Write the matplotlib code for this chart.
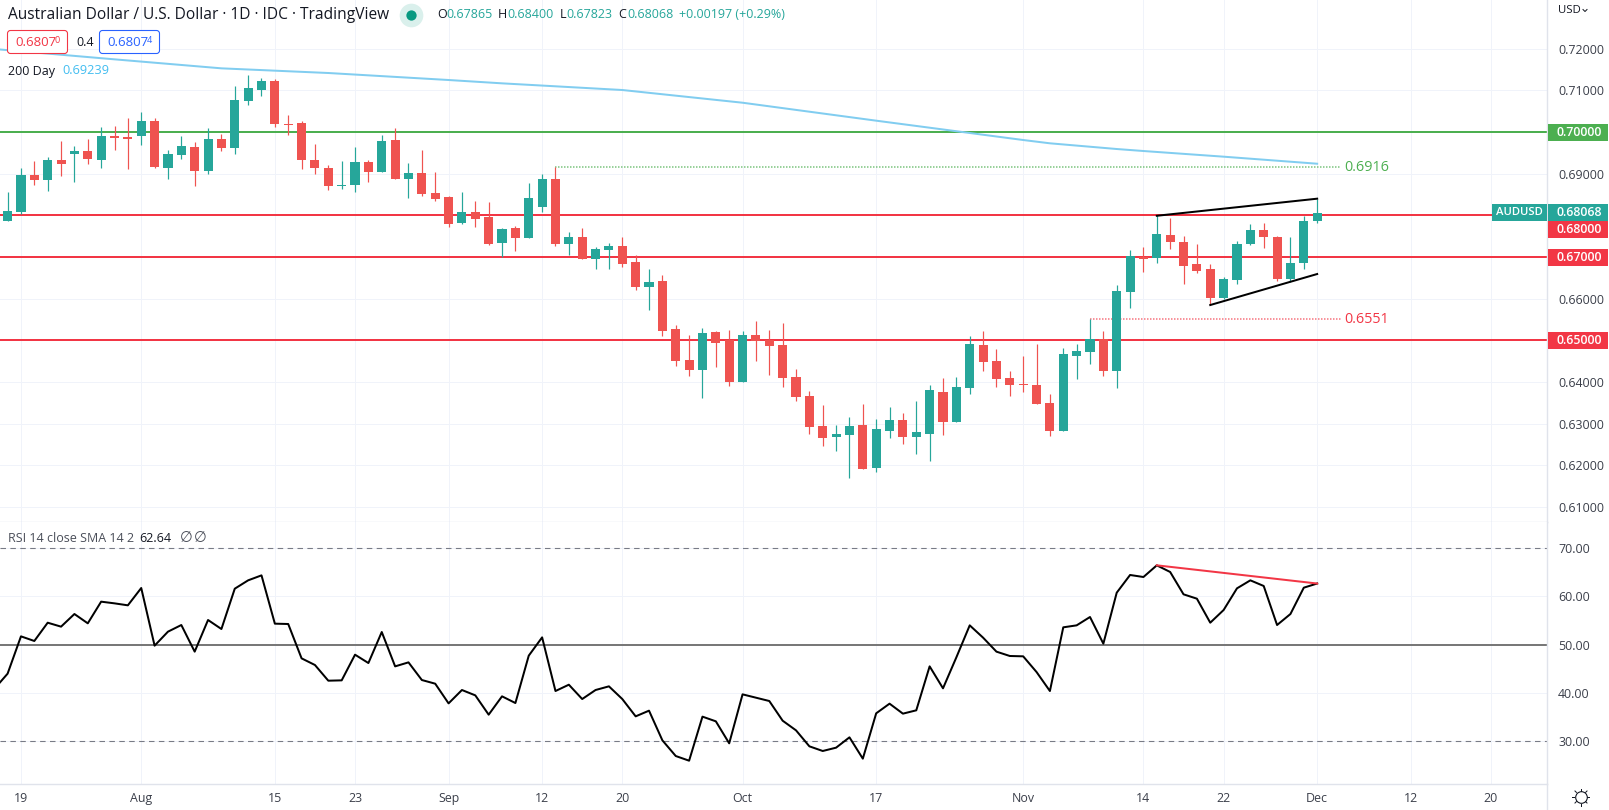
import matplotlib
matplotlib.use('Agg')
import matplotlib.pyplot as plt
import numpy as np
from matplotlib.patches import Rectangle, FancyBboxPatch
from matplotlib.transforms import blended_transform_factory

plt.rcParams['font.family'] = ['Open Sans', 'DejaVu Sans']

opens = [.67864, .68080, .68968, .68848, .69328, .69472, .69544, .69328, .69904, .69880,
         .69904, .70264, .69136, .69448, .69640, .69064, .69832, .69616, .70744, .71008,
         .71224, .70192, .70216, .69328, .69136, .68704, .68728, .69280, .69040, .69808,
         .68872, .69016, .68536, .68440, .67816, .68080, .67960, .67336, .67696, .67456,
         .68200, .68872, .67312, .67480, .66952, .67168, .67264, .66880, .66280, .66424,
         .65272, .64528, .64288, .65200, .65008, .64000, .65128, .65008, .64888, .64120,
         .63664, .62944, .62680, .62728, .62968, .61936, .62824, .63088, .62680, .62752,
         .63760, .63040, .63856, .64888, .64504, .64096, .63952, .63928, .63496, .62824,
         .64624, .64720, .65032, .64264, .66160, .67000, .66976, .67528, .67360, .66832,
         .66712, .66016, .66448, .67312, .67648, .67480, .66472, .66856, .67865]
closes = [.68104, .68968, .68848, .69328, .69232, .69544, .69352, .69904, .69856, .69832,
          .70264, .69160, .69472, .69664, .69064, .69832, .69616, .70768, .71056, .71224,
          .70192, .70168, .69328, .69136, .68704, .68728, .69280, .69040, .69784, .68872,
          .69016, .68512, .68392, .67792, .68080, .67912, .67312, .67672, .67456, .68416,
          .68872, .67312, .67480, .66952, .67192, .67264, .66832, .66280, .66400, .65224,
          .64504, .64288, .65176, .64936, .64000, .65128, .64984, .64864, .64096, .63640,
          .62920, .62656, .62752, .62944, .61912, .62872, .63088, .62680, .62800, .63808,
          .63040, .63880, .64912, .64480, .64072, .63928, .63928, .63472, .62824, .64672,
          .64744, .65032, .64264, .66184, .67024, .66952, .67552, .67360, .66784, .66664,
          .66016, .66472, .67312, .67648, .67480, .66472, .66856, .67864, .68068]
highs = [.68560, .69136, .69304, .69400, .69784, .69664, .69832, .70120, .70144, .70336,
         .70480, .70336, .69568, .69904, .69760, .70096, .69952, .71104, .71368, .71296,
         .71272, .70408, .70264, .69712, .69208, .69304, .69640, .69328, .69928, .70096,
         .69256, .69568, .69040, .68464, .68560, .68344, .68320, .67696, .67744, .68776,
         .68992, .69160, .67600, .67696, .67240, .67336, .67480, .67048, .66712, .66568,
         .65368, .65128, .65296, .65224, .65248, .65224, .65464, .65248, .65416, .64312,
         .63784, .63448, .62968, .63160, .63472, .63112, .63400, .63256, .63544, .63928,
         .64096, .64120, .65104, .65224, .64792, .64264, .64624, .64912, .63712, .64816,
         .64912, .65512, .65224, .66328, .67168, .67240, .68008, .67936, .67504, .67312,
         .66832, .66520, .67384, .67792, .67816, .67504, .67480, .67984, .68400]
lows = [.67864, .68032, .68728, .68584, .68944, .68800, .69232, .69136, .69568, .69112,
        .69688, .69136, .68872, .69352, .68704, .68992, .69544, .69472, .70648, .70864,
        .70120, .69928, .69112, .68992, .68608, .68632, .68560, .68800, .69040, .68872,
        .68416, .68464, .68344, .67720, .67792, .67720, .67288, .67000, .67144, .67456,
        .68080, .67264, .67048, .66952, .66712, .66712, .66760, .66208, .65728, .65104,
        .64384, .64144, .63616, .64360, .63904, .64000, .64504, .64168, .63880, .63544,
        .62752, .62464, .62344, .61696, .61912, .61840, .62656, .62512, .62272, .62104,
        .62728, .63040, .63712, .64264, .63880, .63664, .63760, .63472, .62704, .62824,
        .64072, .64432, .64144, .63856, .65776, .66640, .66856, .67192, .66352, .66616,
        .65848, .65992, .66352, .67288, .67216, .66424, .66400, .66712, .67823]

# rsi starts one bar before the first visible candle
rsi = [40.78, 43.96, 51.69, 50.73, 54.52, 53.70, 56.32, 54.39, 58.88, 58.53, 58.12,
       61.71, 49.76, 52.66, 54.04, 48.52, 55.08, 53.21, 61.57, 63.30, 64.33,
       54.32, 54.25, 47.13, 45.75, 42.50, 42.57, 47.89, 46.16, 52.59, 45.47,
       46.30, 42.64, 41.88, 37.80, 40.57, 39.46, 35.46, 39.26, 37.87, 47.69,
       51.48, 40.36, 41.67, 38.70, 40.57, 41.33, 38.70, 35.11, 36.29, 30.14,
       26.89, 25.92, 35.05, 34.08, 29.52, 39.67, 38.98, 38.29, 34.21, 32.21,
       28.90, 27.93, 28.62, 30.76, 26.34, 35.74, 37.74, 35.67, 36.36, 45.47,
       40.92, 47.34, 53.97, 51.42, 48.52, 47.62, 47.55, 44.30, 40.36, 53.56,
       53.97, 55.70, 50.17, 60.74, 64.41, 63.99, 66.41, 65.03, 60.40, 59.50,
       54.52, 57.15, 61.64, 63.30, 62.13, 54.04, 56.32, 61.78, 62.64]

sma_bars = [-1, 8, 16, 24, 33, 37, 46, 55, 65, 76, 78, 83, 85, 91, 98]
sma_vals = [.71992, .71744, .71528, .71416, .71248, .71168, .71008, .70703, .70272,
            .69808, .69729, .69592, .69544, .69408, .69239]

tick_bars = [1, 10, 20, 26, 33, 40, 46, 55, 65, 76, 85, 91, 98, 105, 111]
tick_labels = ['19', 'Aug', '15', '23', 'Sep', '12', '20', 'Oct', '17', 'Nov', '14', '22', 'Dec', '12', '20']
price_ticks = [.61, .62, .63, .64, .65, .66, .67, .68, .69, .70, .71, .72]
rsi_ticks = [30, 40, 50, 60, 70]
red_levels = [.68, .67, .65]
green_level = .70

GREEN = '#26a69a'
RED = '#ef5350'
LINE_RED = '#f23645'
LINE_GREEN = '#4caf50'
GRID = '#f0f3fa'
BORDER = '#e0e3eb'
TEXT = '#131722'
AXIS_TEXT = '#3b3f4a'
W, H = 1609, 810
AXIS_X = 1547
SPLIT = 522
BOTTOM = 784
PX = 1 / 100 * 72  # one pixel in points
tagged = [.65, .67, .68, .70]


def box(left, top, right, bottom):
    return [left / W, 1 - bottom / H, (right - left) / W, (bottom - top) / H]


fig = plt.figure(figsize=(W / 100, H / 100), dpi=100)
ax = fig.add_axes(box(0, 0, AXIS_X, SPLIT))
ax2 = fig.add_axes(box(0, SPLIT, AXIS_X, BOTTOM))
ov = fig.add_axes(box(0, 0, W, H), zorder=10)
ov.set_xlim(0, W)
ov.set_ylim(H, 0)
ov.axis('off')

xlim = (-0.569, 115.2)
for a in (ax, ax2):
    a.set_xlim(xlim)
    a.set_xticks(tick_bars)
    a.grid(True, color=GRID, lw=PX)
    a.set_axisbelow(True)
    a.yaxis.tick_right()
    for s in ('top', 'left'):
        a.spines[s].set_visible(False)
    for s in ('right', 'bottom'):
        a.spines[s].set_color(BORDER)
        a.spines[s].set_linewidth(1.4 * PX)

ax.set_ylim(0.60641, 0.73168)
ax.set_yticks(price_ticks)
# the ones with a coloured tag get their text from the tag
ax.set_yticklabels(['' if p in tagged else '%.5f' % p for p in price_ticks], color=AXIS_TEXT, fontsize=8.9)
ax.tick_params(axis='y', length=0, pad=8)
ax.tick_params(axis='x', length=0, labelbottom=False)

# levels
for lvl in red_levels:
    ax.axhline(lvl, color=LINE_RED, lw=2 * PX, zorder=2)
ax.axhline(green_level, color=LINE_GREEN, lw=2 * PX, zorder=2)

# 200 day average
ax.plot(sma_bars, sma_vals, color='#81cdf0', lw=2 * PX, zorder=2.5)

# dotted high and low markers
ax.plot([41, 99.8], [.6916, .6916], color=LINE_GREEN, lw=1.5 * PX, ls=(0, (1, 1)), alpha=.75, zorder=2.5)
ax.plot([81, 99.8], [.6551, .6551], color=LINE_RED, lw=1.5 * PX, ls=(0, (1, 1)), alpha=.7, zorder=2.5)

# candles
bars = list(range(len(opens)))
colors = [GREEN if c >= o else RED for o, c in zip(opens, closes)]
ax.vlines(bars, lows, highs, colors=colors, lw=1.2 * PX, zorder=3)
ax.bar(bars, [abs(c - o) for o, c in zip(opens, closes)], bottom=[min(o, c) for o, c in zip(opens, closes)],
       width=0.68, color=colors, zorder=3.1)

# wedge
ax.plot([86, 98], [.6799, .6840], color='black', lw=2 * PX, zorder=4)
ax.plot([90, 98], [.65848, .66592], color='black', lw=2 * PX, zorder=4)

ax.text(100.05, .6916, '0.6916', color=LINE_GREEN, fontsize=10.4, va='center', ha='left')
ax.text(100.05, .6551, '0.6551', color=LINE_RED, fontsize=10.4, va='center', ha='left')

# price tags on the scale
trans = blended_transform_factory(ax.transAxes, ax.transData)
tag_w = 60 / AXIS_X
tag_h = 17 / 4167
tags = [(.70, '0.70000', LINE_GREEN), (.68068, '0.68068', GREEN), (.67660, '0.68000', LINE_RED),
        (.67, '0.67000', LINE_RED), (.65, '0.65000', LINE_RED)]
for pos, label, col in tags:
    ax.add_patch(Rectangle((1.0005, pos - tag_h / 2), tag_w, tag_h, transform=trans, color=col, clip_on=False, zorder=6, lw=0))
    ax.text(1 + 32 / AXIS_X, pos, label, transform=trans, color='white', fontsize=8.9, fontweight='semibold',
            ha='center', va='center', zorder=7, clip_on=False)
ax.add_patch(Rectangle((1 - 55 / AXIS_X, .68068 - tag_h / 2), 55 / AXIS_X, tag_h, transform=trans, color=GREEN, lw=0, zorder=6))
ax.text(1 - 27.5 / AXIS_X, .68068, 'AUDUSD', transform=trans, color='white', fontsize=8.1, fontweight='semibold',
        ha='center', va='center', zorder=7)

# rsi pane
ax2.set_ylim(21.09, 75.39)
ax2.set_yticks(rsi_ticks)
ax2.set_yticklabels(['%.2f' % r for r in rsi_ticks], color=AXIS_TEXT, fontsize=8.9)
ax2.set_xticklabels(tick_labels, color=AXIS_TEXT, fontsize=8.9)
ax2.tick_params(axis='y', length=0, pad=8)
ax2.tick_params(axis='x', length=0, pad=6)
for lvl in (70, 30):
    ax2.axhline(lvl, color='#787b86', lw=1.1 * PX, ls=(0, (5, 4)), zorder=2)
ax2.axhline(50, color='#787878', lw=2 * PX, zorder=2)
ax2.plot(range(-1, len(rsi) - 1), rsi, color='black', lw=2 * PX, zorder=3)
ax2.plot([86, 98], [66.41, 62.64], color=LINE_RED, lw=2 * PX, zorder=3.5)

# header text
ov.text(8, 15, 'Australian Dollar / U.S. Dollar · 1D · IDC · TradingView', color=TEXT, fontsize=11.2, va='center')
ov.scatter([410.7], [14.5], s=290, color='#daf0ec', lw=0)
ov.scatter([410.7], [14.5], s=55, color='#089981', lw=0)
x_pos = [437, 498, 560, 618]
parts = [('O', '0.67865'), ('H', '0.68400'), ('L', '0.67823'), ('C', '0.68068')]
offs = [9, 9.5, 6.7, 9]
for x, (k, v), off in zip(x_pos, parts, offs):
    ov.text(x, 15, k, color=TEXT, fontsize=9, va='center')
    ov.text(x + off, 15, v, color=GREEN, fontsize=9, va='center')
ov.text(679, 15, '+0.00197 (+0.29%)', color=GREEN, fontsize=9, va='center')

ov.add_patch(FancyBboxPatch((7.5, 30.5), 60, 23, boxstyle='round,pad=0,rounding_size=3', fc='white', ec=LINE_RED, lw=1.1 * PX))
ov.add_patch(FancyBboxPatch((99.5, 30.5), 60, 23, boxstyle='round,pad=0,rounding_size=3', fc='white', ec='#2962ff', lw=1.1 * PX))
ov.text(15, 43, '0.6807', color=LINE_RED, fontsize=9.5, va='center')
ov.text(55, 40.5, '0', color=LINE_RED, fontsize=6.5, va='center')
ov.text(76, 43, '0.4', color=TEXT, fontsize=9, va='center')
ov.text(107, 43, '0.6807', color='#2962ff', fontsize=9.5, va='center')
ov.text(147, 40.5, '4', color='#2962ff', fontsize=6.5, va='center')
ov.text(8, 71, '200 Day', color=TEXT, fontsize=9, va='center')
ov.text(62, 71, '0.69239', color='#42bdf0', fontsize=9.2, va='center')

ov.text(8, 538, 'RSI 14 close SMA 14 2', color='#4a4e59', fontsize=9, va='center')
ov.text(139, 538, '62.64', color=TEXT, fontsize=9, va='center')
ov.text(180, 538, '∅', color='#4a4e59', fontsize=10.5, va='center')
ov.text(194, 538, '∅', color='#4a4e59', fontsize=10.5, va='center')

ov.text(1558, 10.5, 'USD', color=TEXT, fontsize=8.2, va='center')
ov.plot([1583, 1585, 1587], [9.5, 11.5, 9.5], color=TEXT, lw=PX)

# settings gear in the corner
ov.scatter([1581], [797], s=70, fc='white', ec=TEXT, lw=1.1 * PX)
for ang in np.deg2rad(range(0, 360, 45)):
    ov.plot([1581 + 6.5 * np.cos(ang), 1581 + 8.5 * np.cos(ang)], [797 + 6.5 * np.sin(ang), 797 + 8.5 * np.sin(ang)],
            color=TEXT, lw=PX)
ov.plot([AXIS_X, AXIS_X], [BOTTOM, H], color=BORDER, lw=1.4 * PX)

fig.savefig('out.png', dpi=100)
